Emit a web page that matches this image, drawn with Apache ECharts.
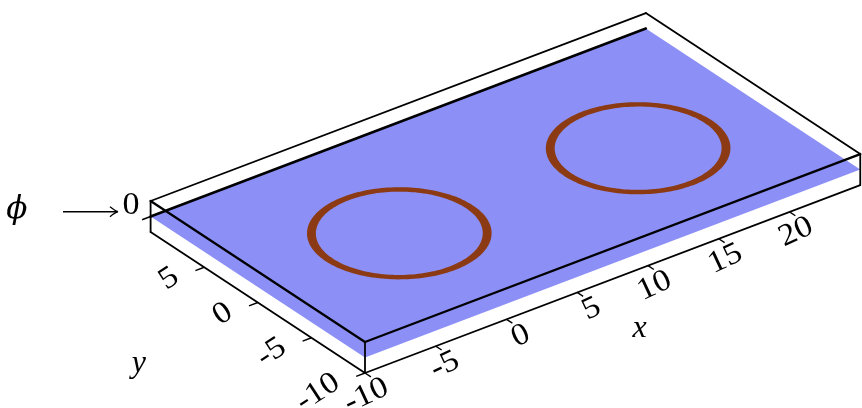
<!DOCTYPE html>
<html>
<head>
<meta charset="utf-8">
<script src="https://cdn.jsdelivr.net/npm/echarts@6/dist/echarts.min.js"></script>
<style>
  html, body { margin: 0; padding: 0; background: #fff; }
  #chart { width: 862px; height: 408px; }
</style>
</head>
<body>
<div id="chart"></div>
<script>
// Domain of the box and level of the phi surface
const xRange = [-10, 25];
const yRange = [-10, 10];
const zRange = [-1, 1];
const phiLevel = 0;

// Tick values on each axis
const xTicks = [-10, -5, 0, 5, 10, 15, 20];
const yTicks = [-10, -5, 0, 5];
const zTicks = [0];

// Interface rings lying on the surface: centre and inner/outer radius
const ringCenterX = [0, 16.5];
const ringCenterY = [0, -0.5];
const ringOuterR = [5.2, 5.2];
const ringInnerR = [4.7, 4.7];

// Axis captions and the annotation on the vertical axis
const xCaption = 'x';
const yCaption = 'y';
const phiCaption = '\u03D5';

// ---------------------------------------------------------------------------
const W = 862, H = 408;
const BLUE = '#8c90f6';
const BROWN = '#8b3a13';
const INK = '#000';
const SERIF = '"Liberation Serif", "DejaVu Serif", serif';
const tickText = { fontSize: 31, fontFamily: SERIF, fill: INK };
const mathText = { fontSize: 32, fontFamily: SERIF, fontStyle: 'italic', fill: INK };
const tickStretch = 1.1;

// Oblique view: page offset of the origin and per-unit steps along x, y, z
const view = {
  origin: [399.3, 233.3],
  ex: [14.15, -5.37],
  ey: [-10.72, -7.05],
  ez: [0, -15.5]
};
function proj(x, y, z) {
  return [
    view.origin[0] + x * view.ex[0] + y * view.ey[0] + z * view.ez[0],
    view.origin[1] + x * view.ex[1] + y * view.ey[1] + z * view.ez[1]
  ];
}
function P(api, x, y, z) { return api.coord(proj(x, y, z)); }

const [x0, x1] = xRange, [y0, y1] = yRange, [z0, z1] = zRange;

// Box edges that are visible from this viewpoint
const backTopEdges = [
  [x0, y1, z1, x1, y1, z1],
  [x1, y0, z1, x1, y1, z1]
];
const frontTopEdges = [
  [x0, y0, z1, x0, y1, z1],
  [x0, y0, z1, x1, y0, z1]
];
const lowerEdges = [
  [x0, y0, z0, x0, y1, z0],
  [x0, y0, z0, x1, y0, z0],
  [x0, y1, z0, x0, y1, z1],
  [x0, y0, z0, x0, y0, z1],
  [x1, y0, z0, x1, y0, z1]
];
const surfaceBackEdge = [[x0, y1, phiLevel, x1, y1, phiLevel]];

function edgeSeries(rows, width) {
  return {
    type: 'custom', coordinateSystem: 'cartesian2d', silent: true,
    data: rows,
    renderItem(params, api) {
      const a = P(api, api.value(0), api.value(1), api.value(2));
      const b = P(api, api.value(3), api.value(4), api.value(5));
      return {
        type: 'line',
        shape: { x1: a[0], y1: a[1], x2: b[0], y2: b[1] },
        style: { stroke: INK, lineWidth: width, lineCap: 'round' }
      };
    }
  };
}

function ellipsePoints(api, cx, cy, r, z) {
  const pts = [];
  const n = 180;
  for (let i = 0; i < n; i++) {
    const t = (i / n) * Math.PI * 2;
    pts.push(P(api, cx + r * Math.cos(t), cy + r * Math.sin(t), z));
  }
  return pts;
}

const ringRows = ringCenterX.map((cx, i) => [cx, ringCenterY[i], ringOuterR[i], ringInnerR[i]]);

const deg = Math.PI / 180;

function label(x, y, text, base, extra) {
  return Object.assign({ type: 'text', x: x, y: y },
    extra || {},
    { style: Object.assign({ text: text, verticalAlign: 'middle' }, base, (extra && extra.style) || {}) });
}

const option = {
  animation: false,
  grid: { left: 0, right: 0, top: 0, bottom: 0 },
  xAxis: { type: 'value', min: 0, max: W, show: false },
  yAxis: { type: 'value', min: 0, max: H, inverse: true, show: false },
  series: [
    // the phi surface
    {
      type: 'custom', coordinateSystem: 'cartesian2d', silent: true,
      data: [[phiLevel]],
      renderItem(params, api) {
        const z = api.value(0);
        return {
          type: 'polygon',
          shape: { points: [P(api, x0, y0, z), P(api, x1, y0, z), P(api, x1, y1, z), P(api, x0, y1, z)] },
          style: { fill: BLUE }
        };
      }
    },
    edgeSeries(surfaceBackEdge, 2.6),
    // rings on the surface
    {
      type: 'custom', coordinateSystem: 'cartesian2d', silent: true,
      data: ringRows,
      renderItem(params, api) {
        const cx = api.value(0), cy = api.value(1), ro = api.value(2), ri = api.value(3);
        return {
          type: 'group',
          children: [
            { type: 'polygon', shape: { points: ellipsePoints(api, cx, cy, ro, phiLevel) }, style: { fill: BROWN } },
            { type: 'polygon', shape: { points: ellipsePoints(api, cx, cy, ri, phiLevel) }, style: { fill: BLUE } }
          ]
        };
      }
    },
    edgeSeries(backTopEdges, 1.8),
    edgeSeries(lowerEdges, 1.8),
    edgeSeries(frontTopEdges, 2.3),
    // x ticks and labels
    {
      type: 'custom', coordinateSystem: 'cartesian2d', silent: true,
      data: xTicks.map(v => [v]),
      renderItem(params, api) {
        const v = api.value(0);
        const a = P(api, v, y0, z0);
        const b = P(api, v, y0 - 0.55, z0);
        return {
          type: 'group',
          children: [
            { type: 'line', shape: { x1: a[0], y1: a[1], x2: b[0], y2: b[1] }, style: { stroke: INK, lineWidth: 1.4 } },
            label(a[0] + 22, a[1] + 13, String(v), tickText,
              { rotation: 25 * deg, scaleX: tickStretch, style: { align: 'right' } })
          ]
        };
      }
    },
    // y ticks and labels
    {
      type: 'custom', coordinateSystem: 'cartesian2d', silent: true,
      data: yTicks.map(v => [v]),
      renderItem(params, api) {
        const v = api.value(0);
        const a = P(api, x0, v, z0);
        const b = P(api, x0 - 0.62, v, z0);
        return {
          type: 'group',
          children: [
            { type: 'line', shape: { x1: a[0], y1: a[1], x2: b[0], y2: b[1] }, style: { stroke: INK, lineWidth: 1.4 } },
            label(a[0] - 28, a[1] + 7, String(v), tickText,
              { rotation: 33 * deg, scaleX: tickStretch, style: { align: 'right' } })
          ]
        };
      }
    },
    // z ticks, labels and the phi pointer
    {
      type: 'custom', coordinateSystem: 'cartesian2d', silent: true,
      data: zTicks.map(v => [v]),
      renderItem(params, api) {
        const v = api.value(0);
        const a = P(api, x0, y1, v);
        const b = P(api, x0 - 0.6, y1, v);
        const tip = [a[0] - 32.6, a[1] - 4.8];
        const tail = [a[0] - 87.6, a[1] - 4.8];
        return {
          type: 'group',
          children: [
            { type: 'line', shape: { x1: a[0], y1: a[1], x2: b[0], y2: b[1] }, style: { stroke: INK, lineWidth: 1.4 } },
            label(a[0] - 11, a[1] - 11, String(v), tickText, { scaleX: tickStretch, style: { align: 'right' } }),
            { type: 'line', shape: { x1: tail[0], y1: tail[1], x2: tip[0] - 1, y2: tip[1] }, style: { stroke: INK, lineWidth: 1.5 } },
            {
              type: 'bezierCurve',
              shape: { x1: tip[0] - 8, y1: tip[1] - 5, cpx1: tip[0] - 3, cpy1: tip[1] - 1, x2: tip[0], y2: tip[1] },
              style: { stroke: INK, lineWidth: 1.4, fill: null }
            },
            {
              type: 'bezierCurve',
              shape: { x1: tip[0] - 8, y1: tip[1] + 5, cpx1: tip[0] - 3, cpy1: tip[1] + 1, x2: tip[0], y2: tip[1] },
              style: { stroke: INK, lineWidth: 1.4, fill: null }
            },
            label(a[0] - 133.9, a[1] - 7, phiCaption,
              { fontSize: 31, fontFamily: '"DejaVu Serif", serif', fontStyle: 'italic', fill: INK },
              { style: { align: 'center' } })
          ]
        };
      }
    },
    // axis captions
    {
      type: 'custom', coordinateSystem: 'cartesian2d', silent: true,
      data: [[0]],
      renderItem(params, api) {
        const xm = (xRange[0] + xRange[1]) / 2;
        const ym = (yRange[0] + yRange[1]) / 2;
        const ax = P(api, xm, y0, z0);
        const ay = P(api, x0, ym, z0);
        return {
          type: 'group',
          children: [
            label(ax[0] + 27, ax[1] + 50, xCaption, mathText, { style: { align: 'center' } }),
            label(ay[0] - 119, ay[1] + 61, yCaption, mathText, { style: { align: 'center' } })
          ]
        };
      }
    }
  ]
};

const chart = echarts.init(document.getElementById('chart'));
chart.setOption(option);
</script>
</body>
</html>
